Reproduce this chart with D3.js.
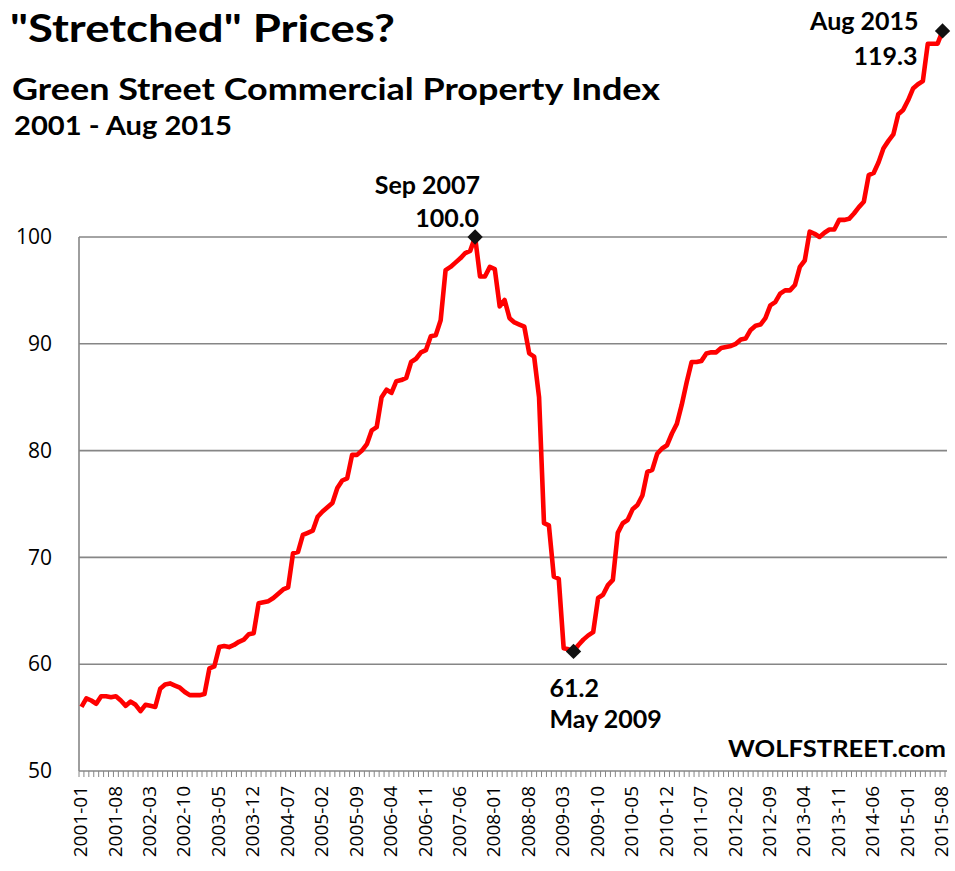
<!DOCTYPE html>
<html lang="en">
    <head>
        <meta charset="utf-8">
        <title>Green Street Commercial Property Index</title>
        <script type="text/javascript" src="https://cdn.jsdelivr.net/npm/d3@7"></script>
        <style type="text/css">
            body { margin: 0; background: #fff; }
            .axis text { font-family: "Open Sans", sans-serif; fill: #000; }
            .head { font-family: Lato, "Open Sans", sans-serif; font-weight: bold; fill: #000; }
        </style>
    </head>
    <body>
        <div class="chart"></div>
        <script type="text/javascript">
            // monthly index, 2001-01 .. 2015-08
            var startYear = 2001;
            var monthCount = 176;
            var indexValues = [
                56.0, 56.8, 56.6, 56.3, 57.0, 57.0, 56.9, 57.0, 56.6, 56.1,
                56.5, 56.2, 55.6, 56.2, 56.1, 56.0, 57.7, 58.1, 58.2, 58.0,
                57.8, 57.4, 57.1, 57.1, 57.1, 57.2, 59.6, 59.8, 61.6, 61.7,
                61.6, 61.8, 62.1, 62.3, 62.8, 62.9, 65.7, 65.8, 65.9, 66.2,
                66.6, 67.0, 67.2, 70.4, 70.5, 72.1, 72.3, 72.5, 73.8, 74.3,
                74.7, 75.1, 76.5, 77.2, 77.4, 79.6, 79.6, 80.0, 80.6, 81.9,
                82.2, 85.0, 85.7, 85.4, 86.5, 86.6, 86.8, 88.3, 88.6, 89.2,
                89.4, 90.7, 90.8, 92.2, 96.9, 97.2, 97.6, 98.0, 98.5, 98.7,
                100.0, 96.3, 96.3, 97.2, 97.0, 93.5, 94.1, 92.4, 92.0, 91.8,
                91.6, 89.1, 88.8, 85.0, 73.2, 73.0, 68.2, 68.0, 61.5, 61.4,
                61.2, 61.8, 62.3, 62.7, 63.0, 66.2, 66.5, 67.4, 67.9, 72.3,
                73.2, 73.5, 74.5, 74.9, 75.8, 78.0, 78.2, 79.7, 80.2, 80.5,
                81.6, 82.5, 84.3, 86.4, 88.3, 88.3, 88.4, 89.1, 89.2, 89.2,
                89.6, 89.7, 89.8, 90.0, 90.4, 90.5, 91.3, 91.7, 91.8, 92.4,
                93.6, 93.9, 94.7, 95.0, 95.0, 95.5, 97.2, 97.8, 100.5, 100.3,
                100.0, 100.4, 100.7, 100.7, 101.6, 101.6, 101.7, 102.2, 102.8, 103.3,
                105.8, 106.0, 107.0, 108.3, 109.0, 109.6, 111.5, 111.9, 112.8, 113.9,
                114.3, 114.6, 118.1, 118.1, 118.1, 119.3
            ];
            var yTicks = [50, 60, 70, 80, 90, 100];
            var labelEvery = 7;
            // highlighted points
            var peak = {i: 80, name: "Sep 2007"};
            var trough = {i: 100, name: "May 2009"};
            var last = {i: 175, name: "Aug 2015"};

            var months = [];
            for (var k = 0; k < monthCount; k++) {
                var yy = startYear + Math.floor(k / 12);
                var mm = (k % 12) + 1;
                months.push(yy + "-" + (mm < 10 ? "0" + mm : mm));
            }
            var data = months.map(function(m, i){ return {month: m, value: indexValues[i]}; });

            var w = 955, h = 871;
            var left = 79, right = 945, bottom = 771;

            var svg = d3.select("div.chart")
                        .append("svg")
                        .attr("width", w)
                        .attr("height", h);

            var xScale = d3.scaleBand()
                           .domain(months)
                           .range([left, right]);
            var cx = function(m){ return xScale(m) + xScale.bandwidth() / 2; };
            var yScale = d3.scaleLinear()
                           .domain([50, 120])
                           .range([bottom, bottom - 70 * 10.68]);

            // gridlines
            svg.append("g")
               .selectAll("line")
               .data(yTicks.slice(1))
               .enter()
               .append("line")
               .attr("x1", left)
               .attr("x2", right + 2)
               .attr("y1", function(d){ return yScale(d); })
               .attr("y2", function(d){ return yScale(d); })
               .attr("stroke", "#868686")
               .attr("stroke-width", 1.6);

            // y axis
            var yAxis = d3.axisLeft(yScale).tickValues(yTicks).tickSize(0).tickPadding(27);
            var gy = svg.append("g")
               .attr("class", "y axis")
               .attr("transform", "translate(" + left + ",0)")
               .call(yAxis);
            gy.select(".domain").remove();
            gy.selectAll("text").style("font-size", "21px");
            svg.append("line")
               .attr("x1", left).attr("x2", left)
               .attr("y1", yScale(100)).attr("y2", bottom)
               .attr("stroke", "#868686")
               .attr("stroke-width", 1.6);

            // x axis: month ticks between categories, labels every 7 months
            svg.append("line")
               .attr("x1", left).attr("x2", right + 2)
               .attr("y1", bottom).attr("y2", bottom)
               .attr("stroke", "#868686")
               .attr("stroke-width", 1.6);
            svg.append("g")
               .selectAll("line")
               .data(months.concat(["end"]))
               .enter()
               .append("line")
               .attr("x1", function(d){ return d === "end" ? right : xScale(d); })
               .attr("x2", function(d){ return d === "end" ? right : xScale(d); })
               .attr("y1", bottom)
               .attr("y2", bottom + 6)
               .attr("stroke", "#868686")
               .attr("stroke-width", 1);

            var xAxis = d3.axisBottom(xScale)
                          .tickValues(months.filter(function(d, i){ return i % labelEvery === 0; }))
                          .tickSize(0);
            var gx = svg.append("g")
               .attr("class", "x axis")
               .attr("transform", "translate(0," + bottom + ")")
               .call(xAxis);
            gx.select(".domain").remove();
            gx.selectAll("text")
              .attr("y", 0)
              .attr("x", -15)
              .attr("dy", "0.3em")
              .attr("transform", "rotate(-90)")
              .style("text-anchor", "end")
              .style("font-size", "19px");

            // the line
            var line = d3.line()
                         .x(function(d){ return cx(d.month); })
                         .y(function(d){ return yScale(d.value); });
            svg.append("path")
               .datum(data)
               .attr("d", line)
               .attr("fill", "none")
               .attr("stroke", "#ff0000")
               .attr("stroke-width", 4.6)
               .attr("stroke-linejoin", "round");

            // diamond markers
            var marks = [peak, trough, last];
            svg.selectAll("path.mark")
               .data(marks)
               .enter()
               .append("path")
               .attr("class", "mark")
               .attr("d", d3.symbol().type(d3.symbolDiamond2).size(150))
               .attr("transform", function(d){
                   return "translate(" + cx(months[d.i]) + "," + yScale(indexValues[d.i]) + ")";
               })
               .attr("fill", "#111");

            // annotations
            function note(txt, x, y, anchor, size) {
                svg.append("text")
                   .attr("class", "head")
                   .attr("x", x)
                   .attr("y", y)
                   .attr("text-anchor", anchor)
                   .style("font-size", size + "px")
                   .text(txt);
            }
            var px = cx(months[peak.i]), py = yScale(indexValues[peak.i]);
            note(peak.name, px + 5, py - 43, "end", 25);
            note(indexValues[peak.i].toFixed(1), px + 4, py - 10, "end", 25);
            var tx = cx(months[trough.i]), ty = yScale(indexValues[trough.i]);
            note(indexValues[trough.i].toFixed(1), tx - 24, ty + 46, "start", 25);
            note(trough.name, tx - 24, ty + 77, "start", 25);
            var lx = cx(months[last.i]), ly = yScale(indexValues[last.i]);
            note(last.name, lx - 24, ly - 1, "end", 25);
            note(indexValues[last.i].toFixed(1), lx - 25, ly + 34, "end", 25);

            // titles
            function title(txt, x, y, size, len) {
                svg.append("text")
                   .attr("class", "head")
                   .attr("x", x)
                   .attr("y", y)
                   .attr("textLength", len)
                   .attr("lengthAdjust", "spacingAndGlyphs")
                   .style("font-size", size + "px")
                   .text(txt);
            }
            title("\"Stretched\" Prices?", 10, 42, 38, 385);
            title("Green Street Commercial Property Index", 12, 100, 31, 648);
            title("2001 - Aug 2015", 14, 135, 26, 218);
            title("WOLFSTREET.com", 728, 757, 22, 218);
        </script>
    </body>
</html>
